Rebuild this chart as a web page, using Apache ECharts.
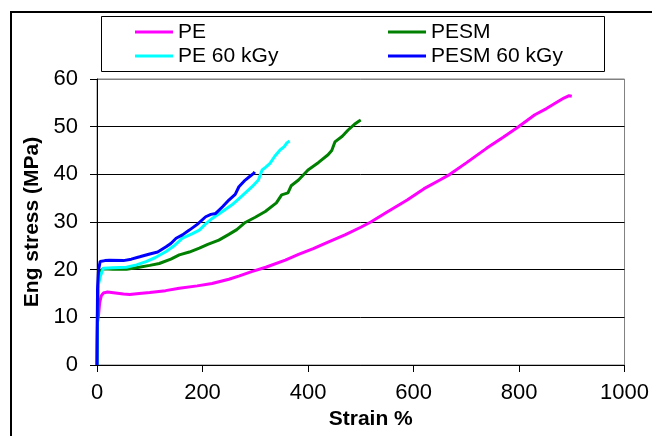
<!DOCTYPE html>
<html>
<head>
<meta charset="utf-8">
<script src="https://cdn.jsdelivr.net/npm/echarts@6/dist/echarts.min.js"></script>
<style>
html,body{margin:0;padding:0;background:#fff;}
#chart{width:652px;height:436px;}
</style>
</head>
<body>
<div id="chart"></div>
<script>
var seriesNames = ['PE', 'PESM', 'PE 60 kGy', 'PESM 60 kGy'];
var xTicks = [0, 200, 400, 600, 800, 1000];
var yTicks = [0, 10, 20, 30, 40, 50, 60];

var pe = [[0,0],[1,9],[3,10.5],[5,13],[8,14.5],[12,15.1],[20,15.3],[35,15.1],[50,14.9],[62,14.8],[80,15.0],[100,15.2],[130,15.6],[156,16.1],[190,16.6],[218,17.1],[250,18.0],[270,18.7],[293,19.6],[320,20.5],[357,22.0],[382,23.2],[410,24.4],[438,25.8],[470,27.3],[500,28.9],[519,30.0],[550,32.1],[588,34.6],[620,37.0],[650,38.8],[669,40.0],[700,42.4],[739,45.5],[770,47.8],[799,50.0],[830,52.5],[852,53.8],[870,55.0],[885,56.0],[895,56.5],[900,56.4]];

var pesm = [[0,0],[1,12],[3,18],[6,19.7],[12,20.2],[30,20.1],[56,20.1],[80,20.5],[100,20.9],[118,21.3],[140,22.2],[156,23.1],[175,23.7],[194,24.5],[210,25.3],[231,26.2],[250,27.4],[265,28.4],[281,29.9],[300,31.0],[319,32.2],[340,34.0],[350,35.7],[362,36.1],[368,37.6],[382,38.8],[400,40.9],[420,42.5],[438,44.1],[445,45.0],[451,46.8],[465,48.0],[476,49.3],[488,50.5],[497,51.2],[500,51.4]];

var pe60 = [[0,0],[1,14],[3,17],[6,18.5],[12,20.3],[30,20.4],[56,20.5],[75,21.0],[93,21.7],[110,22.5],[131,23.8],[145,24.9],[162,26.6],[180,27.5],[194,28.3],[205,29.5],[219,30.8],[235,32.0],[256,33.6],[275,35.5],[294,37.4],[306,38.8],[313,40.9],[320,41.5],[328,42.3],[337,43.8],[347,45.1],[355,45.8],[360,46.6],[365,47.0]];

var pesm60 = [[0,0],[1,16],[3,20],[6,21.7],[15,21.9],[24,22.0],[50,21.9],[65,22.2],[81,22.7],[100,23.3],[115,23.7],[131,24.8],[140,25.5],[150,26.6],[162,27.3],[175,28.3],[190,29.5],[206,31.1],[216,31.6],[225,31.8],[238,33.2],[250,34.6],[262,35.8],[269,37.4],[281,38.8],[290,39.6],[297,40.2],[299,40.5]];

var colors = ['#FF00FF', '#008000', '#00FFFF', '#0000FF'];
var seriesData = [pe, pesm, pe60, pesm60];
var FONT = '"Liberation Sans", Arial, sans-serif';

var legendPos = [[135, 20], [388, 20], [135, 44], [388, 44]];

var chart = echarts.init(document.getElementById('chart'), null, {renderer: 'canvas'});

var option = {
  animation: false,
  backgroundColor: '#fff',
  color: colors,
  textStyle: {fontFamily: FONT},
  grid: {left: 97, right: 23, top: 79, bottom: 71, show: true, borderColor: '#808080', borderWidth: 1, containLabel: false},
  legend: seriesNames.map(function (n, i) {
    return {
      data: [n], left: legendPos[i][0], top: legendPos[i][1], padding: 0,
      icon: 'rect', itemWidth: 38, itemHeight: 3, itemGap: 0,
      textStyle: {fontSize: 21, color: '#000', fontFamily: FONT, lineHeight: 24}
    };
  }),
  graphic: [
    {type: 'rect', shape: {x: 11, y: 12, width: 800, height: 600}, style: {fill: 'none', stroke: '#000', lineWidth: 2}, silent: true},
    {type: 'rect', shape: {x: 101.5, y: 16.5, width: 503, height: 55}, style: {fill: 'none', stroke: '#000', lineWidth: 1}, silent: true}
  ],
  xAxis: {
    type: 'value', min: xTicks[0], max: xTicks[xTicks.length - 1], interval: 200,
    name: 'Strain %', nameLocation: 'middle', nameGap: 41,
    nameTextStyle: {fontSize: 21, fontWeight: 'bold', color: '#000', fontFamily: FONT, padding: [0, 0, 0, 20]},
    axisLine: {show: true, lineStyle: {color: '#000', width: 1}},
    axisTick: {show: true, length: 7, lineStyle: {color: '#000'}},
    axisLabel: {fontSize: 22, color: '#000', margin: 17, fontFamily: FONT, formatter: function (v) { return String(v); }},
    splitLine: {show: false}
  },
  yAxis: {
    type: 'value', min: yTicks[0], max: yTicks[yTicks.length - 1], interval: 10,
    name: 'Eng stress (MPa)', nameLocation: 'middle', nameGap: 53,
    nameTextStyle: {fontSize: 21, fontWeight: 'bold', color: '#000', fontFamily: FONT},
    axisLine: {show: true, lineStyle: {color: '#000', width: 1}},
    axisTick: {show: true, length: 7, lineStyle: {color: '#000'}},
    axisLabel: {fontSize: 22, color: '#000', margin: 19, fontFamily: FONT, formatter: function (v) { return String(v); }},
    splitLine: {show: true, lineStyle: {color: ['#000', '#000', '#000', '#000', '#000', '#000', '#808080'], width: 1}}
  },
  series: seriesNames.map(function (n, i) {
    return {
      name: n, type: 'line', data: seriesData[i], showSymbol: false, symbol: 'none',
      lineStyle: {color: colors[i], width: 3}, itemStyle: {color: colors[i]}, z: 2 + i
    };
  })
};
chart.setOption(option);
</script>
</body>
</html>
